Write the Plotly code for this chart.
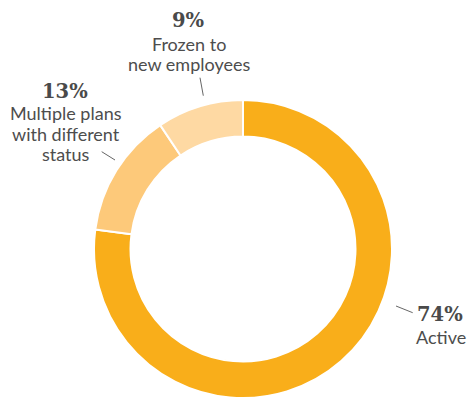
import plotly.graph_objects as go

# Plan status shares (percent)
categories = ["Active", "Multiple plans with different status", "Frozen to new employees"]
shares = [74, 13, 9]
pct_labels = ["74%", "13%", "9%"]
label_lines = [["Active"], ["Multiple plans", "with different", "status"], ["Frozen to", "new employees"]]
colors = ["#F9AE1A", "#FDC97A", "#FED9A3"]

W, H = 468, 398


def px(x):
    return x / W


def py(y):
    return 1 - y / H


fig = go.Figure(
    go.Pie(
        labels=categories,
        values=shares,
        hole=0.755,
        sort=False,
        direction="clockwise",
        rotation=0,
        marker=dict(colors=colors, line=dict(color="white", width=2)),
        textinfo="none",
        hoverinfo="label+percent",
        domain=dict(x=[px(93), px(393)], y=[0, py(100)]),
    )
)

num_font = dict(family="DejaVu Serif", size=19.5, color="#4a4a4a", weight="bold")
lab_font = dict(family="Lato", size=18, color="#4d4d4d")
LINE_GAP = 20.5

# label placement: (number x, number y, text x, first text line y)
placements = [
    (440, 314, 441, 337),
    (65, 91.5, 65.5, 113),
    (188.5, 20, 188.5, 43.5),
]

annotations = []
for pct, lines, (nx, ny, tx, ty) in zip(pct_labels, label_lines, placements):
    annotations.append(dict(x=px(nx), y=py(ny), xref="paper", yref="paper", text=pct,
                            showarrow=False, font=num_font, xanchor="center", yanchor="middle"))
    for i, line in enumerate(lines):
        annotations.append(dict(x=px(tx), y=py(ty + i * LINE_GAP), xref="paper", yref="paper",
                                text=line, showarrow=False, font=lab_font,
                                xanchor="center", yanchor="middle"))

leaders = [
    ((396, 306), (412.7, 312.7)),
    ((101.7, 151.7), (115, 160)),
    ((200, 77.7), (203.3, 95.7)),
]
shapes = [
    dict(type="line", xref="paper", yref="paper",
         x0=px(a[0]), y0=py(a[1]), x1=px(b[0]), y1=py(b[1]),
         line=dict(color="#666666", width=1))
    for a, b in leaders
]

fig.update_layout(
    width=W,
    height=H,
    margin=dict(l=0, r=0, t=0, b=0),
    paper_bgcolor="white",
    plot_bgcolor="white",
    showlegend=False,
    annotations=annotations,
    shapes=shapes,
)

fig.write_html("out.html")
